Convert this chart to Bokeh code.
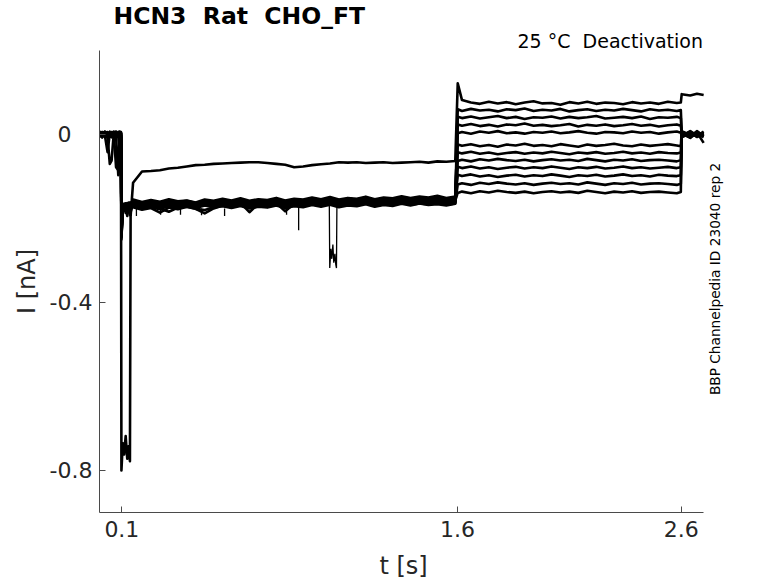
import numpy as np
from bokeh.plotting import figure
from bokeh.models import Range1d, FixedTicker, Title, Label
from bokeh.embed import file_html
from bokeh.resources import INLINE

# ---------------- texts ----------------
title_text = "HCN3\u00a0 Rat\u00a0 CHO_FT"
cond_text = "25 °C\u00a0 Deactivation"
id_text = "BBP Channelpedia ID 23040 rep 2"
x_label = "t [s]\u00a0\u00a0\u00a0"   # trailing no-break spaces keep it centred under the 0..2.7 axis
y_label = "I [nA]"
x_ticks = [0.1, 1.6, 2.6]
x_tick_labels = ["0.1", "1.6", "2.6"]
y_ticks = [-0.8, -0.4, 0.0]
y_tick_labels = ["-0.8", "-0.4", "0\u2008\u2007"]

# ---------------- sampling times (s) per segment ----------------
t_pre = [0.000, 0.012, 0.024, 0.036, 0.046, 0.054, 0.064, 0.074, 0.084, 0.090, 0.096]
t_tr = [0.098, 0.104, 0.110, 0.117, 0.124, 0.131, 0.136, 0.139]
t_hold = np.round(np.arange(0.15, 1.5901, 0.04), 3)
t_step = [1.601] + list(np.round(np.arange(1.62, 2.5801, 0.04), 3)) + [2.598]
t_post = [2.602, 2.64, 2.67, 2.70]

# ---------------- currents (pA), one row per sweep ----------------
pre_pA = [
    [3, -4, 6, -2, 4, -3, 2, 7, -3, 4, -1],
    [-2, 6, -3, 5, -6, 3, 7, -2, 4, -5, 3],
    [7, 1, -5, 3, 0, -6, 3, -3, 6, 1, -7],
    [-5, 3, 7, -6, -70, -62, 4, -2, 3, -3, 6],
    [1, -7, 4, 2, -3, 6, -5, 3, -6, -30, 2],
    [6, -2, 3, -7, 4, 1, -3, 6, -1, 3, -5],
    [-3, 4, -2, -42, 3, -5, 6, -7, 2, -3, 4],
    [5, -6, 3, 6, -2, 4, -3, 2, -5, 6, -3],
    [-6, 2, 4, -3, 7, -1, 3, -4, -97, -60, 3],
    [3, 5, -6, 2, -4, 3, -7, 4, 3, -2, -6],
    [-2, -3, 6, 4, -3, -6, 2, -78, -85, -3, 4],
    [6, 3, -4, -2, 2, 4, -6, 3, -3, 7, -2],
]
tr_pA = [
    [-800, -735, -762, -718, -772, -742, -778, -195],
    [-228, -180, -171, -165, -174, -162, -169, -166],
    [-245, -176, -168, -187, -165, -171, -163, -170],
    [-215, -172, -182, -166, -170, -168, -192, -164],
    [-232, -169, -165, -171, -181, -166, -170, -162],
    [-240, -183, -170, -164, -168, -175, -166, -169],
    [-220, -174, -167, -178, -163, -169, -172, -185],
    [-250, -171, -176, -168, -172, -164, -167, -171],
    [-226, -178, -165, -170, -194, -167, -171, -166],
    [-238, -170, -173, -166, -169, -172, -165, -168],
    [-218, -181, -168, -172, -166, -170, -188, -167],
    [-242, -175, -171, -165, -170, -167, -169, -173],
]
hold_pA = [
    [-115, -88, -87, -85, -81, -79, -76, -73, -72, -70, -69, -68, -67, -66, -66, -68, -70, -72, -78, -76,
     -73, -71, -69, -66, -67, -66, -68, -67, -66, -68, -67, -66, -65, -67, -64, -65, -63],
    [-155, -161, -156, -160, -154, -159, -157, -162, -155, -158, -153, -157, -152, -158, -154, -156, -151, -157, -153, -155,
     -150, -154, -149, -155, -151, -153, -148, -154, -150, -152, -147, -151, -148, -150, -146, -151, -148],
    [-173, -179, -175, -186, -174, -178, -172, -177, -180, -174, -171, -175, -170, -176, -172, -174, -169, -175, -171, -173,
     -168, -172, -167, -173, -169, -171, -166, -172, -168, -170, -165, -169, -164, -168, -166, -169, -165],
    [-159, -165, -160, -164, -158, -163, -161, -166, -159, -162, -157, -161, -156, -162, -158, -160, -155, -161, -157, -159,
     -154, -158, -153, -159, -155, -157, -152, -158, -154, -156, -151, -155, -152, -154, -150, -155, -152],
    [-169, -175, -171, -176, -184, -174, -170, -175, -169, -173, -167, -171, -166, -172, -168, -170, -165, -171, -167, -169,
     -164, -168, -163, -169, -165, -167, -162, -168, -164, -166, -161, -165, -162, -164, -160, -165, -162],
    [-162, -168, -164, -169, -161, -166, -163, -168, -162, -167, -160, -164, -159, -165, -161, -163, -158, -164, -160, -162,
     -157, -161, -156, -162, -158, -160, -155, -161, -157, -159, -154, -158, -155, -157, -153, -158, -155],
    [-166, -172, -168, -173, -165, -170, -167, -172, -166, -171, -164, -168, -163, -185, -165, -167, -162, -168, -164, -166,
     -161, -165, -160, -166, -162, -164, -159, -165, -161, -163, -158, -162, -159, -161, -157, -162, -159],
    [-157, -163, -159, -164, -156, -161, -158, -163, -157, -162, -155, -159, -154, -160, -156, -158, -153, -159, -155, -157,
     -152, -156, -151, -157, -153, -155, -150, -156, -152, -154, -149, -153, -150, -152, -148, -153, -150],
    [-171, -177, -173, -178, -170, -175, -172, -177, -188, -176, -169, -173, -168, -174, -170, -172, -167, -173, -169, -171,
     -166, -170, -165, -171, -167, -169, -164, -170, -166, -168, -163, -167, -164, -166, -162, -167, -164],
    [-160, -166, -162, -167, -159, -164, -161, -166, -160, -165, -158, -162, -157, -163, -159, -161, -156, -162, -158, -160,
     -155, -159, -154, -160, -156, -158, -153, -159, -155, -157, -152, -156, -153, -155, -151, -156, -153],
    [-167, -173, -169, -174, -166, -171, -168, -173, -167, -172, -165, -169, -164, -170, -166, -168, -163, -183, -165, -167,
     -162, -166, -161, -167, -163, -165, -160, -166, -162, -164, -159, -163, -160, -162, -158, -163, -160],
    [-164, -170, -166, -171, -163, -168, -165, -170, -164, -169, -162, -166, -161, -167, -163, -165, -160, -166, -162, -164,
     -159, -163, -158, -164, -160, -162, -157, -163, -159, -161, -156, -160, -157, -159, -155, -160, -157],
]
step_pA = [
    [122, 82, 76, 73, 78, 74, 77, 72, 76, 79, 74, 75, 71, 77, 74, 78, 73, 76, 75, 72, 77, 74, 76, 73, 78, 75, 76],
    [60, 56, 61, 57, 59, 55, 60, 58, 62, 56, 59, 57, 61, 55, 58, 60, 56, 59, 57, 61, 58, 55, 60, 57, 59, 56, 58],
    [42, 39, 43, 38, 41, 44, 39, 42, 37, 41, 40, 43, 38, 42, 39, 41, 44, 38, 40, 42, 39, 43, 37, 41, 40, 42, 39],
    [24, 21, 25, 20, 23, 19, 24, 22, 26, 21, 23, 20, 22, 25, 19, 23, 21, 24, 20, 22, 25, 21, 23, 19, 22, 24, 21],
    [3, 6, 2, 7, 4, 8, 3, 5, 2, 6, 4, 7, 3, 5, 8, 4, 2, 6, 5, 3, 7, 4, 6, 2, 5, 7, 4],
    [-24, -27, -23, -28, -25, -29, -24, -26, -22, -27, -25, -28, -23, -26, -29, -24, -27, -25, -22, -26, -28, -24, -27, -25, -23, -26, -28],
    [-42, -45, -41, -46, -43, -47, -44, -42, -46, -43, -45, -41, -44, -47, -43, -45, -42, -46, -44, -41, -45, -43, -46, -42, -44, -45, -43],
    [-63, -60, -64, -59, -62, -58, -61, -63, -60, -64, -61, -59, -62, -60, -63, -58, -61, -64, -60, -62, -59, -63, -61, -60, -62, -64, -61],
    [-77, -80, -76, -81, -78, -82, -79, -77, -81, -78, -80, -76, -79, -82, -78, -80, -77, -81, -79, -76, -80, -78, -81, -79, -77, -80, -78],
    [-96, -99, -95, -100, -97, -101, -98, -96, -100, -97, -99, -95, -98, -101, -97, -99, -96, -100, -98, -95, -99, -97, -100, -96, -98, -99, -97],
    [-119, -116, -120, -115, -118, -114, -117, -119, -116, -120, -117, -115, -118, -116, -119, -114, -117, -120, -116, -118, -115, -119, -117, -116, -118, -120, -117],
    [-139, -136, -140, -135, -138, -134, -137, -139, -136, -140, -137, -135, -138, -136, -139, -134, -137, -140, -136, -138, -135, -139, -137, -136, -138, -140, -137],
]
post_pA = [
    [96, 93, 97, 94],
    [6, -4, 7, -3],
    [-7, 3, -5, 4],
    [2, -8, 4, -1],
    [-3, 7, -6, 3],
    [8, -1, 3, -5],
    [-5, 4, -3, 7],
    [3, -7, 8, -4],
    [-1, 5, -4, 2],
    [7, -3, 1, -6],
    [-4, 8, -2, 5],
    [4, -5, 5, -20],
]

# brief downward spikes on the holding band (s, nA)
spike_t = [0.165, 0.273, 0.362, 0.456, 0.559, 0.836, 0.890]
spike_from = [-0.176, -0.176, -0.176, -0.176, -0.176, -0.174, -0.174]
spike_to = [-0.194, -0.191, -0.191, -0.192, -0.194, -0.191, -0.228]

# short dip of one sweep around 1.03-1.06 s (s, nA)
dip_t = [1.027, 1.029, 1.034, 1.038, 1.043, 1.047, 1.052, 1.056, 1.059, 1.061]
dip_i = [-0.165, -0.318, -0.272, -0.296, -0.262, -0.305, -0.284, -0.310, -0.318, -0.168]

# ---------------- figure ----------------
FONT = "DejaVu Sans"
TXT = "#262626"
AX = "#4a4a4a"
T_END = 2.7      # end of the time axis
T_VIEW = 2.82    # visible frame extends a little further, to hold the side note

p = figure(width=776, height=582, output_backend="svg", toolbar_location=None,
           x_range=Range1d(0, T_VIEW), y_range=Range1d(-0.9, 0.2),
           min_border_left=99, min_border_right=46, min_border_top=48, min_border_bottom=70,
           title=None)
p.outline_line_color = None
p.xgrid.visible = False
p.ygrid.visible = False
p.background_fill_color = "white"
p.border_fill_color = "white"

t_all = np.concatenate([t_pre, t_tr, t_hold, t_step, t_post])
xs, ys = [], []
for k in range(len(pre_pA)):
    row = np.concatenate([pre_pA[k], tr_pA[k], hold_pA[k], step_pA[k], post_pA[k]]) / 1000.0
    assert len(row) == len(t_all), (k, len(row), len(t_all))
    xs.append(t_all.tolist())
    ys.append(row.tolist())

p.multi_line(xs, ys, line_color="black", line_width=2.6, line_join="round")
p.segment(x0=spike_t, y0=spike_from, x1=spike_t, y1=spike_to, line_color="black", line_width=1.3)
p.line(dip_t, dip_i, line_color="black", line_width=1.3)

for ax in (p.xaxis[0], p.yaxis[0]):
    ax.axis_line_color = AX
    ax.axis_line_width = 1
    ax.major_tick_line_color = AX
    ax.major_tick_in = 6
    ax.major_tick_out = 0
    ax.minor_tick_line_color = None
    ax.major_label_text_font = FONT
    ax.major_label_text_font_size = "22px"
    ax.major_label_text_color = TXT
    ax.axis_label_text_font = FONT
    ax.axis_label_text_font_size = "24px"
    ax.axis_label_text_font_style = "normal"
    ax.axis_label_text_color = TXT

p.xaxis.ticker = FixedTicker(ticks=x_ticks)
p.xaxis.major_label_overrides = dict(zip(x_ticks, x_tick_labels))
p.xaxis.axis_label = x_label
p.xaxis.bounds = (0, T_END)
p.xaxis.major_label_standoff = 8
p.xaxis.axis_label_standoff = 12

p.yaxis.ticker = FixedTicker(ticks=y_ticks)
p.yaxis.major_label_overrides = dict(zip(y_ticks, y_tick_labels))
p.yaxis.axis_label = y_label
p.yaxis.major_label_standoff = 7
p.yaxis.axis_label_standoff = 6

# right-hand vertical identifier text
p.add_layout(Label(x=T_END, y=-0.344, x_offset=11, angle=np.pi / 2, text=id_text,
                   text_font=FONT, text_font_size="13.7px", text_color="black",
                   text_align="center", text_baseline="middle"))

# titles: first added sits nearest the frame
p.add_layout(Title(text=cond_text, align="left", offset=418, standoff=-3,
                   text_font=FONT, text_font_size="19px", text_font_style="normal",
                   text_color="black"), "above")
p.add_layout(Title(text=title_text, align="left", offset=14, standoff=-1,
                   text_font=FONT, text_font_size="23.5px", text_font_style="bold",
                   text_color="black"), "above")

open("out.html", "w").write(file_html(p, INLINE))
